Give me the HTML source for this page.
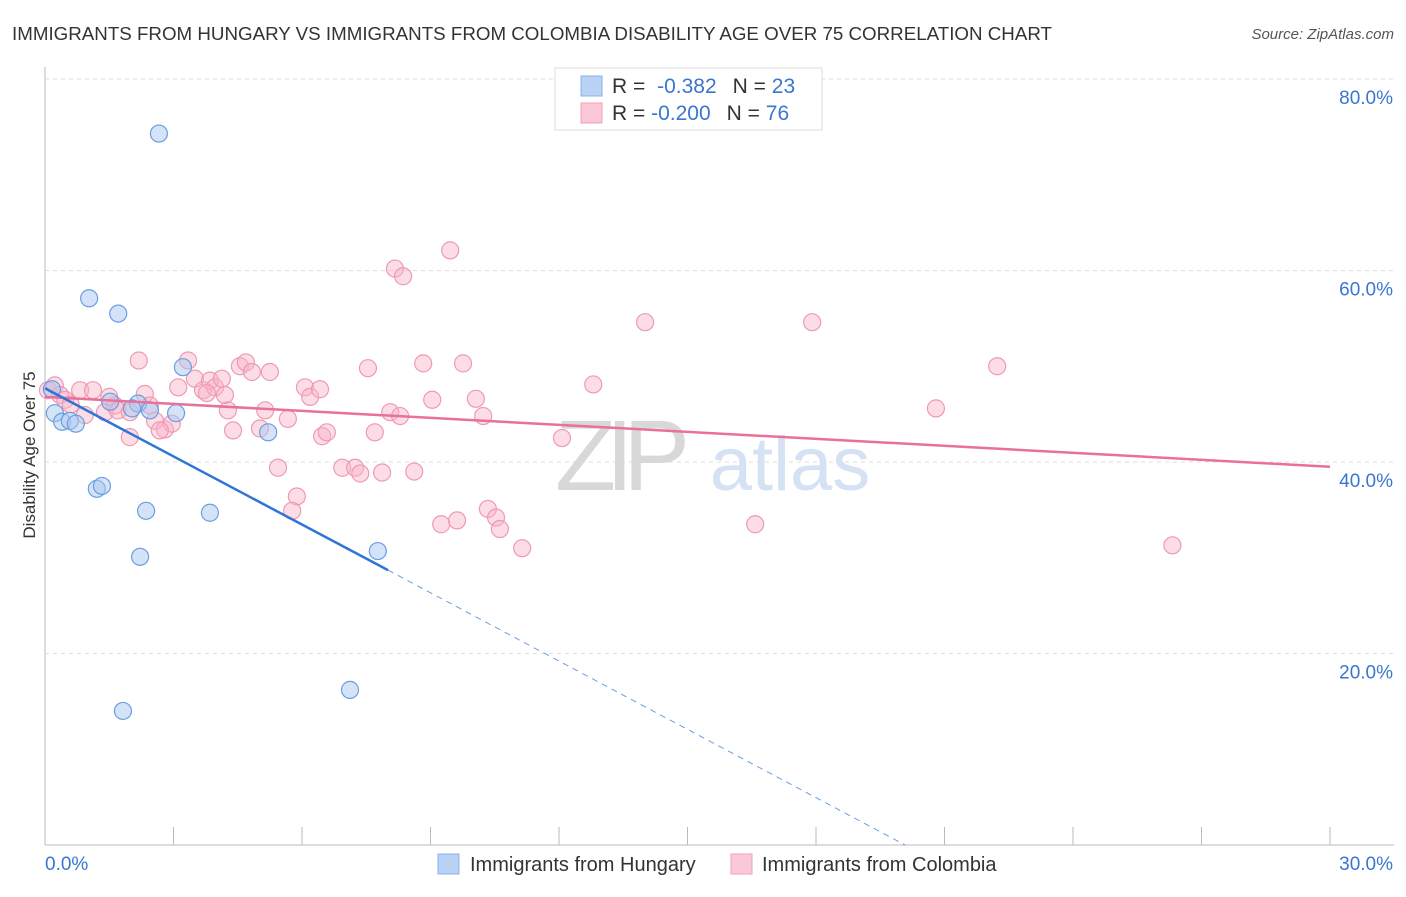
<!DOCTYPE html>
<html><head><meta charset="utf-8"><style>
body{margin:0;background:#fff;font-family:"Liberation Sans",sans-serif}
svg text{font-family:"Liberation Sans",sans-serif}
</style></head><body>
<svg id="c" width="1406" height="892" xmlns="http://www.w3.org/2000/svg">
<text x="12" y="40" font-size="18.5" fill="#333" textLength="1040" lengthAdjust="spacingAndGlyphs">IMMIGRANTS FROM HUNGARY VS IMMIGRANTS FROM COLOMBIA DISABILITY AGE OVER 75 CORRELATION CHART</text>
<text x="1394" y="39" font-size="15" fill="#555" text-anchor="end" font-style="italic">Source: ZipAtlas.com</text>
<text x="35" y="455" font-size="17" fill="#333" text-anchor="middle" transform="rotate(-90 35 455)">Disability Age Over 75</text>
<g id="grid"></g>
<text x="555" y="490" font-size="100" fill="#e4e4e4" font-family="Liberation Serif"><tspan fill="#d8d8d8" textLength="135">ZIP</tspan><tspan fill="#d4e2f4" font-family="Liberation Sans" font-size="76" dx="30">atlas</tspan></text>
<g id="pts"></g>
<g id="lines"></g>
<g>
<rect x="555" y="68" width="267" height="62" fill="#fff" stroke="#ddd"/>
<rect x="581" y="76" width="21" height="20" fill="#b9d3f5" stroke="#8ab2e8"/>
<rect x="581" y="103" width="21" height="20" fill="#fac8d6" stroke="#f0a0b8"/>
<text x="612" y="93" font-size="21" fill="#333">R = <tspan fill="#3a76d0" dx="6">-0.382</tspan><tspan dx="16" fill="#333">N = </tspan><tspan fill="#3a76d0">23</tspan></text>
<text x="612" y="120" font-size="21" fill="#333">R = <tspan fill="#3a76d0">-0.200</tspan><tspan dx="16" fill="#333">N = </tspan><tspan fill="#3a76d0">76</tspan></text>
</g>
<g>
<rect x="438" y="854" width="21" height="20" fill="#b9d3f5" stroke="#8ab2e8"/>
<text x="470" y="871" font-size="20" fill="#333">Immigrants from Hungary</text>
<rect x="731" y="854" width="21" height="20" fill="#fac8d6" stroke="#f0a0b8"/>
<text x="762" y="871" font-size="20" fill="#333">Immigrants from Colombia</text>
</g>
</svg>
<script>
const yTicks=[20,40,60,80];
const yTickLabels=["20.0%","40.0%","60.0%","80.0%"];
const xTickLabels=["0.0%","30.0%"];
const hungaryX=[2.66,1.03,1.71,3.22,0.16,1.52,2.17,0.23,2.03,2.45,3.06,0.40,0.58,0.72,5.21,1.21,1.33,2.36,3.85,2.22,7.77,7.12,1.82];
const hungaryY=[74.3,57.1,55.5,49.9,47.6,46.3,46.1,45.1,45.6,45.4,45.1,44.2,44.3,44.0,43.1,37.2,37.5,34.9,34.7,30.1,30.7,16.2,14.0];
const colombiaX=[0.07,0.23,0.35,0.47,0.82,1.12,0.93,1.40,1.63,1.70,1.98,2.19,2.33,2.45,2.57,2.80,2.96,3.11,3.34,3.50,3.69,3.85,3.97,4.13,4.27,4.39,4.55,4.69,4.83,5.02,5.14,5.25,5.44,5.67,5.88,5.77,6.07,6.19,6.42,6.47,6.58,6.94,7.24,7.36,7.54,7.70,7.87,8.06,8.17,8.36,8.29,8.62,8.83,9.04,9.25,9.46,9.62,9.76,10.06,10.23,10.34,10.53,10.62,11.14,12.07,12.80,14.01,16.58,17.91,20.80,22.23,26.32,1.98,2.68,3.78,4.20,0.6,1.5];
const colombiaY=[47.5,48.0,47.0,46.5,47.5,47.5,44.9,45.2,45.9,45.4,42.6,50.6,47.1,45.9,44.3,43.4,44.0,47.8,50.6,48.7,47.5,48.5,47.8,48.7,45.4,43.3,50.0,50.4,49.4,43.5,45.4,49.4,39.4,44.5,36.4,34.9,47.8,46.8,47.6,42.7,43.1,39.4,39.4,38.8,49.8,43.1,38.9,45.2,60.2,59.4,44.8,39.0,50.3,46.5,33.5,62.1,33.9,50.3,46.6,44.8,35.1,34.2,33.0,31.0,42.5,48.1,54.6,33.5,54.6,45.6,50.0,31.3,45.2,43.3,47.2,47.0,46.0,46.8];
const pinkLine=[[0,46.8],[30,39.5]];
const blueSolid=[[0,47.7],[8.01,28.7]];
const blueDash=[[8.01,28.7],[20.08,0]];
const NS="http://www.w3.org/2000/svg";
const X0=45,X1=1330,Y0=845,Y80=79;
const xs=v=>X0+v/30*(X1-X0);
const ys=v=>Y0-v/80*(Y0-Y80);
function mk(t,a,p){const e=document.createElementNS(NS,t);for(const k in a)e.setAttribute(k,a[k]);p.appendChild(e);return e;}
const grid=document.getElementById('grid');
const ax=mk('line',{x1:X0,y1:67,x2:X0,y2:Y0,stroke:'#bbb'},grid);


const bx=mk('line',{x1:X0,y1:Y0,x2:1394,y2:Y0,stroke:'#bbb'},grid);


yTicks.forEach((t,i)=>{
 const g=mk('line',{x1:X0,y1:ys(t),x2:1394,y2:ys(t),stroke:'#ddd','stroke-dasharray':'4,4'},grid);
 
 
 const tx=mk('text',{x:1393,y:ys(t)+25,'font-size':19,fill:'#3a76d0','text-anchor':'end'},grid);
 tx.textContent=yTickLabels[i];
 
 
});
for(let i=1;i<=10;i++){const x=X0+i*(X1-X0)/10;const t=mk('line',{x1:x,y1:827,x2:x,y2:Y0,stroke:'#bbb'},grid);
 
 }
[[45,'start'],[1393,'end']].forEach((p,i)=>{const t=mk('text',{x:p[0],y:870,'font-size':19,fill:'#3a76d0','text-anchor':p[1]},grid);t.textContent=xTickLabels[i];
 
 });
const pts=document.getElementById('pts');
colombiaX.forEach((v,i)=>{const c=mk('circle',{cx:xs(v),cy:ys(colombiaY[i]),r:8.5,fill:'rgba(248,180,200,0.45)',stroke:'#ee9ab4','stroke-width':1.2},pts);
 
 });
hungaryX.forEach((v,i)=>{const c=mk('circle',{cx:xs(v),cy:ys(hungaryY[i]),r:8.5,fill:'rgba(170,200,240,0.5)',stroke:'#6b9ee0','stroke-width':1.2},pts);
 
 });
const ln=document.getElementById('lines');
function line(p,a,name){const l=mk('line',Object.assign({x1:xs(p[0][0]),y1:ys(p[0][1]),x2:xs(p[1][0]),y2:ys(p[1][1])},a),ln);
 
 }
line(pinkLine,{stroke:'#e8709a','stroke-width':2.5},'colombia-trendline');
line(blueSolid,{stroke:'#2f74d6','stroke-width':2.5},'hungary-trendline');
line(blueDash,{stroke:'#6b9ee0','stroke-width':1,'stroke-dasharray':'6,5'},'hungary-trendline-extension');
</script>
</body></html>
